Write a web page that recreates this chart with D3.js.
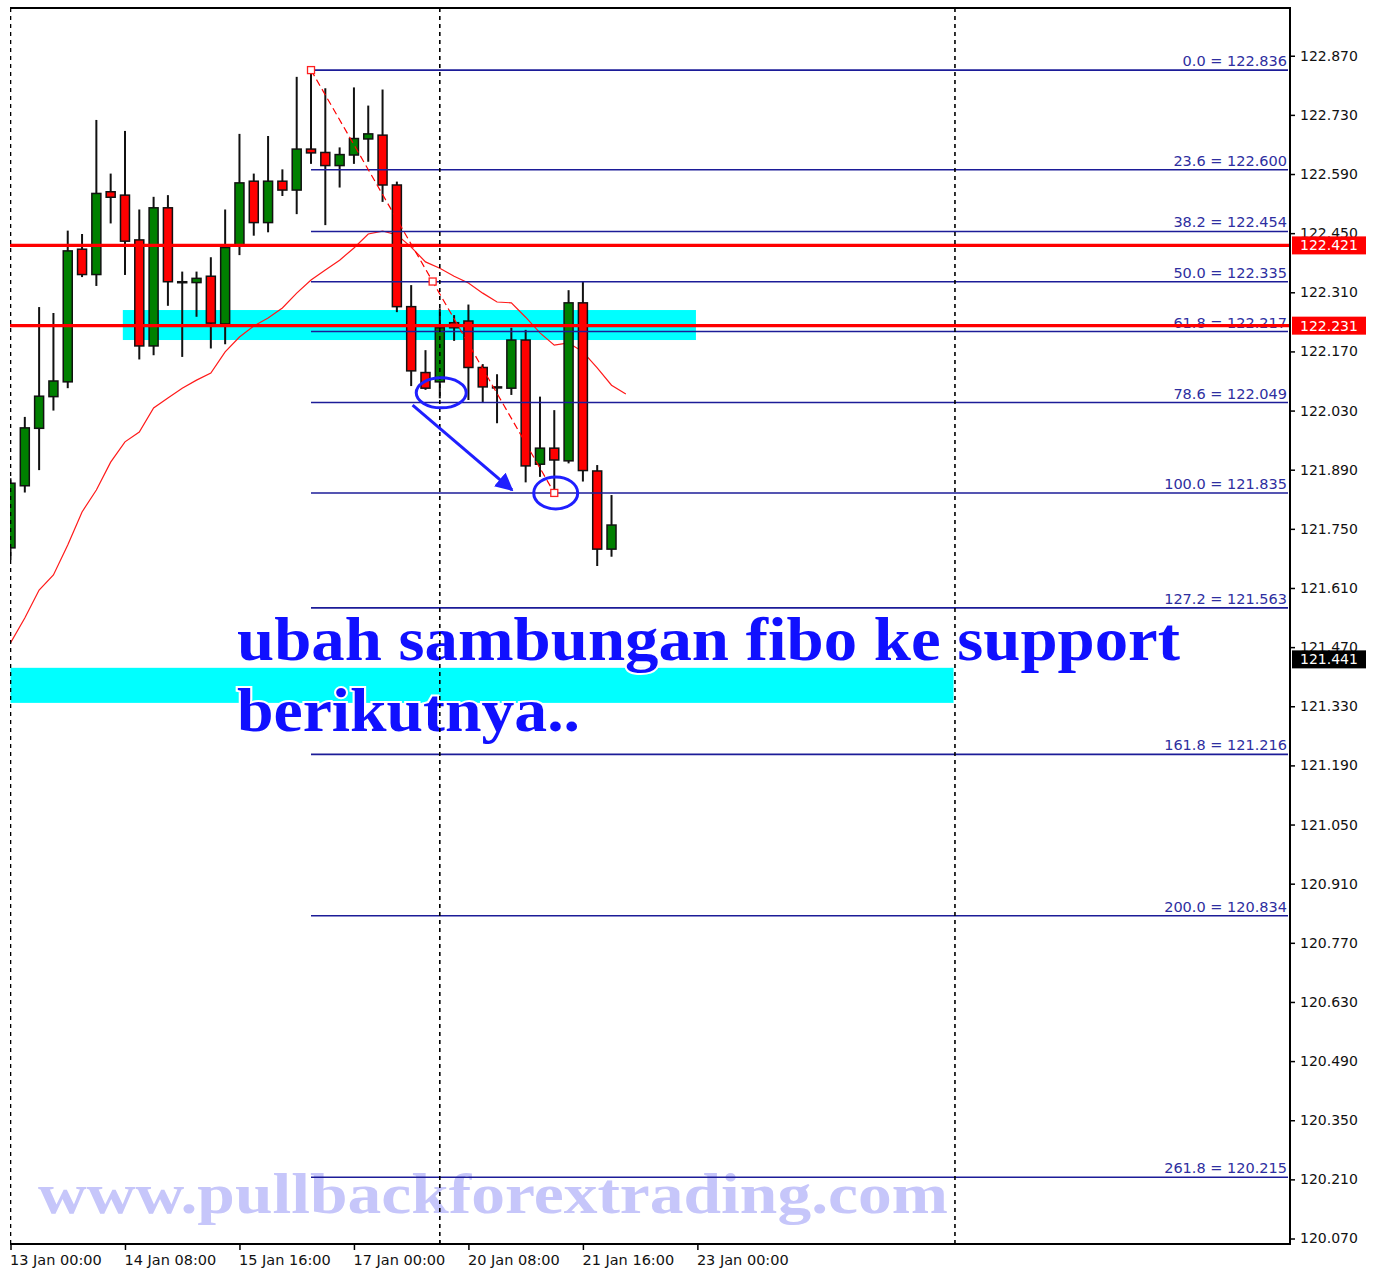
<!DOCTYPE html>
<html>
<head>
<meta charset="utf-8">
<script src="https://cdn.jsdelivr.net/npm/d3@7/dist/d3.min.js"></script>
<style>
body { margin: 0; background: #fff; }
</style>
</head>
<body>
<script>
// USDJPY-ish H4 chart with fibo levels

const svgWidth = 1378
const svgHeight = 1271
const plot = {left: 10, right: 1290, top: 8, bottom: 1244}

// time axis
const dateLabels = ["13 Jan 00:00", "14 Jan 08:00", "15 Jan 16:00", "17 Jan 00:00", "20 Jan 08:00", "21 Jan 16:00", "23 Jan 00:00"]
const dateLabelBars = [0, 8, 16, 24, 32, 40, 48]
const separatorBars = [0, 30, 66]

// price axis
const priceTicks = [122.870, 122.730, 122.590, 122.450, 122.310, 122.170, 122.030, 121.890, 121.750, 121.610,
  121.470, 121.330, 121.190, 121.050, 120.910, 120.770, 120.630, 120.490, 120.350, 120.210, 120.070]

// candles (one per 4h bar)
const open = [121.705, 121.852, 121.988, 122.063, 122.098, 122.412, 122.352, 122.548, 122.540, 122.434, 122.183, 122.510, 122.335, 122.333, 122.348, 122.235, 122.422, 122.573, 122.475, 122.573, 122.552, 122.649, 122.641, 122.610, 122.635, 122.673, 122.682, 122.564, 122.276, 122.120, 122.098, 122.238, 122.242, 122.132, 122.086, 122.083, 122.197, 121.903, 121.941, 121.911, 122.285, 121.887, 121.702]
const high = [121.870, 122.015, 122.275, 122.261, 122.456, 122.448, 122.718, 122.591, 122.692, 122.506, 122.536, 122.540, 122.359, 122.359, 122.393, 122.506, 122.685, 122.591, 122.680, 122.601, 122.820, 122.836, 122.793, 122.653, 122.795, 122.752, 122.790, 122.572, 122.327, 122.173, 122.272, 122.256, 122.281, 122.140, 122.116, 122.226, 122.221, 122.063, 122.031, 122.315, 122.335, 121.901, 121.830]
const low = [121.676, 121.836, 121.889, 122.030, 122.083, 122.346, 122.325, 122.473, 122.351, 122.151, 122.161, 122.278, 122.157, 122.252, 122.177, 122.187, 122.398, 122.444, 122.452, 122.538, 122.495, 122.614, 122.469, 122.558, 122.614, 122.619, 122.524, 122.263, 122.088, 122.079, 122.059, 122.195, 122.055, 122.049, 122.000, 122.067, 121.860, 121.873, 121.835, 121.905, 121.862, 121.662, 121.684]
const close = [121.858, 121.989, 122.064, 122.100, 122.408, 122.352, 122.544, 122.535, 122.431, 122.183, 122.510, 122.335, 122.333, 122.343, 122.237, 122.416, 122.569, 122.475, 122.573, 122.552, 122.649, 122.640, 122.610, 122.636, 122.674, 122.685, 122.564, 122.276, 122.124, 122.083, 122.226, 122.226, 122.132, 122.086, 122.084, 122.197, 121.899, 121.941, 121.913, 122.285, 121.888, 121.702, 121.759]

// moving average (red line)
const ma = [121.480, 121.539, 121.605, 121.641, 121.712, 121.790, 121.842, 121.908, 121.956, 121.979, 122.036, 122.060, 122.083, 122.102, 122.119, 122.169, 122.204, 122.230, 122.249, 122.273, 122.308, 122.339, 122.363, 122.386, 122.415, 122.448, 122.455, 122.446, 122.417, 122.382, 122.367, 122.348, 122.332, 122.308, 122.287, 122.285, 122.251, 122.214, 122.185, 122.190, 122.169, 122.131, 122.090, 122.069]

// fibo retracement
const fibLevels = ["0.0", "23.6", "38.2", "50.0", "61.8", "78.6", "100.0", "127.2", "161.8", "200.0", "261.8"]
const fibPrices = [122.836, 122.600, 122.454, 122.335, 122.217, 122.049, 121.835, 121.563, 121.216, 120.834, 120.215]
const fibFromBar = 21
const fibToBar = 38

// horizontal lines + current price
const hLines = [122.421, 122.231]
const bidPrice = 121.441

// cyan zones
const zoneFrom = [7.85, 0]
const zoneTo = [47.9, 65.9]
const zoneTop = [122.268, 121.421]
const zoneBottom = [122.197, 121.338]

// annotations (bar index, price)
const circleBars = [30.1, 38.1]
const circlePrices = [122.072, 121.835]
const arrowBars = [28.1, 35.05]
const arrowPrices = [122.043, 121.842]
const noteLines = ["ubah sambungan fibo ke support", "berikutnya.."]
const noteBar = 15.83
const notePrices = [121.440, 121.272]
const watermark = "www.pullbackforextrading.com"
const watermarkBar = 1.92
const watermarkPrice = 120.131

// scales
const barWidth = 14.31
const x = d3.scaleLinear().domain([0, 89]).range([10.5, 10.5 + 89 * barWidth])
const y = d3.scaleLinear().domain([122.983, 120.057]).range([plot.top, plot.bottom])

const svg = d3.select("body").append("svg")
  .attr("width", svgWidth)
  .attr("height", svgHeight)
  .style("display", "block")

svg.append("rect").attr("width", svgWidth).attr("height", svgHeight).attr("fill", "#fff")

const defs = svg.append("defs")
defs.append("clipPath").attr("id", "clip")
  .append("rect")
  .attr("x", plot.left).attr("y", plot.top)
  .attr("width", plot.right - plot.left).attr("height", plot.bottom - plot.top)
defs.append("marker")
  .attr("id", "arrowhead")
  .attr("viewBox", "0 0 10 10")
  .attr("refX", 9).attr("refY", 5)
  .attr("markerWidth", 6).attr("markerHeight", 6)
  .attr("markerUnits", "strokeWidth")
  .attr("orient", "auto")
  .append("path").attr("d", "M0,0 L10,5 L0,10 z").attr("fill", "#1f1fff")

const g = svg.append("g").attr("clip-path", "url(#clip)")

// watermark
g.append("text")
  .attr("x", x(watermarkBar)).attr("y", y(watermarkPrice))
  .attr("textLength", 910).attr("lengthAdjust", "spacingAndGlyphs")
  .style("font-family", "'Liberation Serif', 'DejaVu Serif', serif")
  .style("font-weight", "bold").style("font-size", "56px")
  .attr("fill", "#c6c6fa")
  .text(watermark)

// zones
g.selectAll(".zone").data(zoneFrom).enter().append("rect")
  .attr("class", "zone")
  .attr("x", (d, i) => x(d))
  .attr("y", (d, i) => y(zoneTop[i]))
  .attr("width", (d, i) => x(zoneTo[i]) - x(d))
  .attr("height", (d, i) => y(zoneBottom[i]) - y(zoneTop[i]))
  .attr("fill", "#00ffff")

// moving average
g.append("path")
  .datum(ma)
  .attr("fill", "none").attr("stroke", "#ff1a1a").attr("stroke-width", 1.2)
  .attr("d", d3.line().x((d, i) => x(i)).y(d => y(d)))

// candles
const candles = g.selectAll(".candle").data(open).enter().append("g").attr("class", "candle")
candles.append("line")
  .attr("x1", (d, i) => x(i)).attr("x2", (d, i) => x(i))
  .attr("y1", (d, i) => y(high[i])).attr("y2", (d, i) => y(low[i]))
  .attr("stroke", "#111").attr("stroke-width", 2)
candles.append("rect")
  .attr("x", (d, i) => x(i) - 4.5)
  .attr("width", 9)
  .attr("y", (d, i) => y(Math.max(d, close[i])))
  .attr("height", (d, i) => Math.max(1, Math.abs(y(d) - y(close[i]))))
  .attr("fill", (d, i) => close[i] >= d ? "#008000" : "#ff0000")
  .attr("stroke", "#111").attr("stroke-width", 1.5)

// fibo levels
const fib = g.append("g")
fib.selectAll("line").data(fibPrices).enter().append("line")
  .attr("x1", x(fibFromBar)).attr("x2", plot.right - 2)
  .attr("y1", d => y(d)).attr("y2", d => y(d))
  .attr("stroke", "#1c1c98").attr("stroke-width", 1.6)
fib.selectAll("text").data(fibPrices).enter().append("text")
  .attr("x", plot.right - 3).attr("y", d => y(d) - 4)
  .attr("text-anchor", "end")
  .style("font-family", "Tahoma, 'DejaVu Sans', sans-serif").style("font-size", "14.5px")
  .attr("fill", "#2e2ea0")
  .text((d, i) => fibLevels[i] + " = " + d.toFixed(3))

// red horizontal lines
g.selectAll(".hline").data(hLines).enter().append("line")
  .attr("class", "hline")
  .attr("x1", plot.left).attr("x2", plot.right)
  .attr("y1", d => y(d)).attr("y2", d => y(d))
  .attr("stroke", "#ff0000").attr("stroke-width", 3.2)

// fibo trend line with anchors
const fibHi = fibPrices[0], fibLo = fibPrices[6]
g.append("line")
  .attr("x1", x(fibFromBar)).attr("y1", y(fibHi))
  .attr("x2", x(fibToBar)).attr("y2", y(fibLo))
  .attr("stroke", "#ff0000").attr("stroke-width", 1.2).attr("stroke-dasharray", "7,4")
const anchorBars = [fibFromBar, (fibFromBar + fibToBar) / 2, fibToBar]
const anchorPrices = [fibHi, (fibHi + fibLo) / 2, fibLo]
g.selectAll(".anchor").data(anchorBars).enter().append("rect")
  .attr("class", "anchor")
  .attr("x", d => x(d) - 3.5).attr("y", (d, i) => y(anchorPrices[i]) - 3.5)
  .attr("width", 7).attr("height", 7)
  .attr("fill", "#fff").attr("stroke", "#ff2020").attr("stroke-width", 1.3)

// note text
g.selectAll(".note").data(noteLines).enter().append("text")
  .attr("class", "note")
  .attr("x", x(noteBar)).attr("y", (d, i) => y(notePrices[i]))
  .attr("textLength", (d, i) => i === 0 ? 943 : 343)
  .attr("lengthAdjust", "spacingAndGlyphs")
  .style("font-family", "'Liberation Serif', 'DejaVu Serif', serif")
  .style("font-weight", "bold").style("font-size", "62px")
  .attr("fill", "#1010ff")
  .attr("stroke", "#fff").attr("stroke-width", 4).style("paint-order", "stroke")
  .text(d => d)

// period separators
g.selectAll(".sep").data(separatorBars).enter().append("line")
  .attr("class", "sep")
  .attr("x1", d => x(d)).attr("x2", d => x(d))
  .attr("y1", plot.top).attr("y2", plot.bottom)
  .attr("stroke", "#000").attr("stroke-width", 1.6).attr("stroke-dasharray", "4,4")

// circles + arrow
g.selectAll(".circ").data(circleBars).enter().append("ellipse")
  .attr("class", "circ")
  .attr("cx", d => x(d)).attr("cy", (d, i) => y(circlePrices[i]))
  .attr("rx", (d, i) => i === 0 ? 25 : 22).attr("ry", (d, i) => i === 0 ? 15 : 16)
  .attr("fill", "none").attr("stroke", "#1f1fff").attr("stroke-width", 3)
g.append("line")
  .attr("x1", x(arrowBars[0])).attr("y1", y(arrowPrices[0]))
  .attr("x2", x(arrowBars[1])).attr("y2", y(arrowPrices[1]))
  .attr("stroke", "#1f1fff").attr("stroke-width", 3)
  .attr("marker-end", "url(#arrowhead)")

// frame
svg.append("path")
  .attr("d", `M${plot.left},${plot.top} H${plot.right} V${plot.bottom} H${plot.left}`)
  .attr("fill", "none").attr("stroke", "#000").attr("stroke-width", 2)

// right axis
const yAxis = d3.axisRight(y)
  .tickValues(priceTicks)
  .tickFormat(d3.format(".3f"))
  .tickSize(5)
svg.append("g")
  .attr("transform", "translate(" + plot.right + ",0)")
  .call(yAxis)
  .call(a => a.select(".domain").remove())
  .call(a => a.selectAll("line").attr("stroke", "#000").attr("stroke-width", 1.5))
  .call(a => a.selectAll("text")
    .attr("x", 10).attr("fill", "#111")
    .style("font-family", "Tahoma, 'DejaVu Sans', sans-serif").style("font-size", "14px"))

// bottom axis
const xAxis = d3.axisBottom(x)
  .tickValues(dateLabelBars)
  .tickFormat((d, i) => dateLabels[i])
  .tickSize(6)
svg.append("g")
  .attr("transform", "translate(0," + plot.bottom + ")")
  .call(xAxis)
  .call(a => a.select(".domain").remove())
  .call(a => a.selectAll("line").attr("stroke", "#000").attr("stroke-width", 1.5))
  .call(a => a.selectAll("text")
    .attr("text-anchor", "start").attr("y", 11).attr("x", -1).attr("fill", "#111")
    .style("font-family", "Tahoma, 'DejaVu Sans', sans-serif").style("font-size", "14.5px"))
svg.append("line")
  .attr("x1", x(separatorBars[1])).attr("x2", x(separatorBars[1]))
  .attr("y1", plot.bottom).attr("y2", plot.bottom - 4)
  .attr("stroke", "#000").attr("stroke-width", 1.5)

// price tags on the axis
const tags = hLines.map(p => ({p: p, fill: "#ff0000"})).concat([{p: bidPrice, fill: "#000"}])
const tag = svg.selectAll(".tag").data(tags).enter().append("g").attr("class", "tag")
tag.append("rect")
  .attr("x", plot.right + 2).attr("y", d => y(d.p) - 9)
  .attr("width", 74).attr("height", 18)
  .attr("fill", d => d.fill)
tag.append("text")
  .attr("x", plot.right + 10).attr("y", d => y(d.p)).attr("dy", "0.36em")
  .attr("fill", "#fff")
  .style("font-family", "Tahoma, 'DejaVu Sans', sans-serif").style("font-size", "14px")
  .text(d => d.p.toFixed(3))
</script>
</body>
</html>
